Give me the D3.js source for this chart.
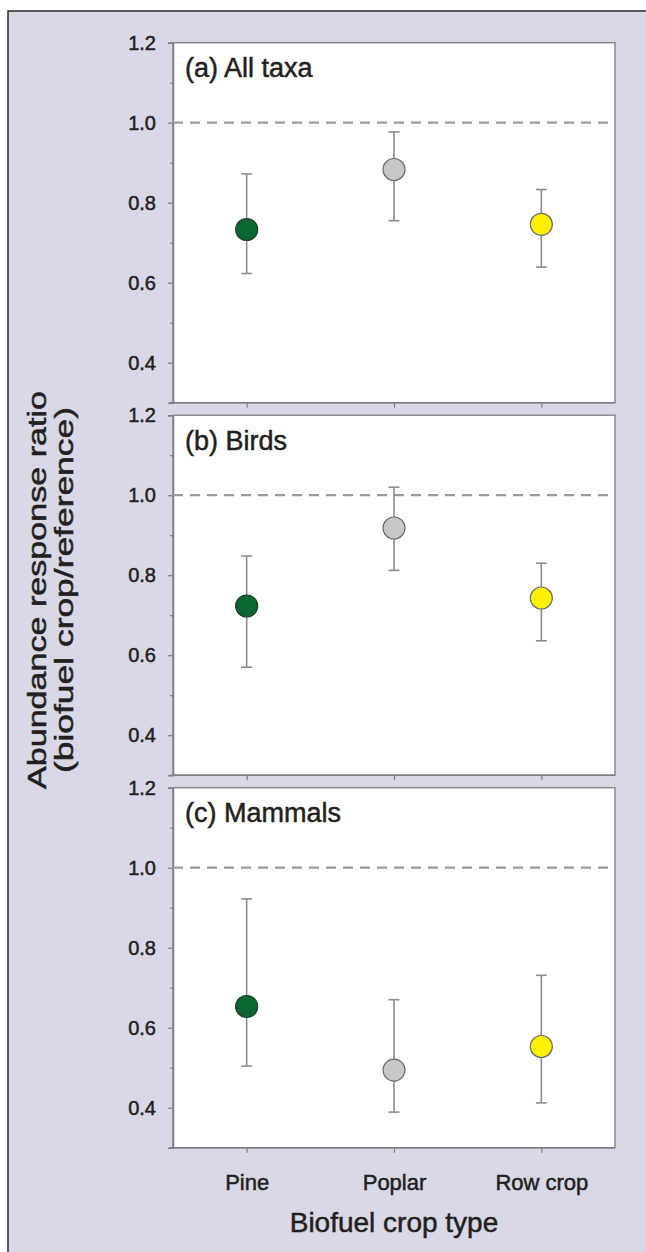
<!DOCTYPE html>
<html>
<head>
<meta charset="utf-8">
<script src="https://cdn.jsdelivr.net/npm/d3@7"></script>
<style>
  body { margin: 0; background: #fff; }
  text { font-family: "Liberation Sans", Arial, sans-serif; fill: #231f20; }
  .med { stroke: #231f20; stroke-width: 0.5px; }
</style>
</head>
<body>
<svg id="chart" width="646" height="1252"></svg>
<script>
// data
const categories = ["Pine", "Poplar", "Row crop"];
const panelLabels = ["(a) All taxa", "(b) Birds", "(c) Mammals"];
const colors = ["#0a6630", "#c8c8c8", "#fff200"];

const meanAll = [0.733, 0.883, 0.746];
const lowAll = [0.623, 0.755, 0.639];
const highAll = [0.872, 0.977, 0.833];

const meanBirds = [0.723, 0.918, 0.743];
const lowBirds = [0.570, 0.812, 0.636];
const highBirds = [0.848, 1.020, 0.830];

const meanMammals = [0.653, 0.494, 0.553];
const lowMammals = [0.504, 0.389, 0.412];
const highMammals = [0.922, 0.670, 0.731];

const yTicks = [0.4, 0.6, 0.8, 1.0, 1.2];
const yMinor = [0.5, 0.7, 0.9, 1.1];
const refLine = 1.0;

const panels = [
  { label: panelLabels[0], mean: meanAll, low: lowAll, high: highAll },
  { label: panelLabels[1], mean: meanBirds, low: lowBirds, high: highBirds },
  { label: panelLabels[2], mean: meanMammals, low: lowMammals, high: highMammals },
];

const svg = d3.select("#chart");
const left = 173, right = 615, top0 = 42.7, ph = 360, stride = 372.5;

// outer frame
svg.append("rect")
  .attr("x", 8).attr("y", 11).attr("width", 700).attr("height", 1300)
  .attr("fill", "#d9d8e7").attr("stroke", "#2a2a2a").attr("stroke-width", 1.5);

const x = d3.scalePoint().domain(categories).range([left, right]).padding(0.5);

panels.forEach((p, i) => {
  const top = top0 + i * stride;
  const y = d3.scaleLinear().domain([0.3, 1.2]).range([top + ph, top]);
  const g = svg.append("g");

  g.append("rect")
    .attr("x", left).attr("y", top).attr("width", right - left).attr("height", ph)
    .attr("fill", "#fff").attr("stroke", "#8a8a8e").attr("stroke-width", 1.5);

  // y axis
  const ya = g.append("g").attr("transform", `translate(${left},0)`)
    .call(d3.axisLeft(y).tickValues(yTicks).tickFormat(d3.format(".1f")).tickSize(5).tickPadding(12));
  ya.select(".domain").attr("stroke", "#7d7d82").attr("stroke-width", 1.5);
  ya.selectAll(".tick line").attr("stroke", "#7d7d82").attr("stroke-width", 1.2);
  ya.selectAll(".tick text").attr("class", "med").style("font-size", "20px").attr("fill", "#231f20");

  g.append("g").attr("transform", `translate(${left},0)`)
    .call(d3.axisLeft(y).tickValues(yMinor).tickFormat("").tickSize(3))
    .call((a) => a.select(".domain").remove())
    .selectAll(".tick line").attr("stroke", "#7d7d82").attr("stroke-width", 1.2);

  // x axis
  const xa = g.append("g").attr("transform", `translate(0,${top + ph})`)
    .call(d3.axisBottom(x).tickSize(5).tickPadding(22).tickFormat(i === 2 ? null : ""));
  xa.select(".domain").attr("stroke", "#7d7d82").attr("stroke-width", 1.5)
    .attr("d", `M${left - 3},0H${right}`);
  xa.selectAll(".tick line").attr("stroke", "#7d7d82").attr("stroke-width", 1.2);
  xa.selectAll(".tick text").attr("class", "med").style("font-size", "22px").attr("fill", "#231f20");

  // reference line
  g.append("line")
    .attr("x1", left).attr("x2", right).attr("y1", y(refLine)).attr("y2", y(refLine))
    .attr("stroke", "#9a9a9c").attr("stroke-width", 2.2).attr("stroke-dasharray", "10,7");

  // panel label
  g.append("text").attr("class", "med")
    .attr("x", left + 12).attr("y", top + 34.5)
    .style("font-size", "27px").text(p.label);

  // error bars
  const bars = g.selectAll(".bar").data(categories).enter().append("g");
  bars.append("line")
    .attr("x1", (d) => x(d)).attr("x2", (d) => x(d))
    .attr("y1", (d, k) => y(p.low[k])).attr("y2", (d, k) => y(p.high[k]))
    .attr("stroke", "#8c8c90").attr("stroke-width", 1.6);
  bars.append("line")
    .attr("x1", (d) => x(d) - 5.5).attr("x2", (d) => x(d) + 5.5)
    .attr("y1", (d, k) => y(p.low[k])).attr("y2", (d, k) => y(p.low[k]))
    .attr("stroke", "#8c8c90").attr("stroke-width", 1.6);
  bars.append("line")
    .attr("x1", (d) => x(d) - 5.5).attr("x2", (d) => x(d) + 5.5)
    .attr("y1", (d, k) => y(p.high[k])).attr("y2", (d, k) => y(p.high[k]))
    .attr("stroke", "#8c8c90").attr("stroke-width", 1.6);
  bars.append("circle")
    .attr("cx", (d) => x(d)).attr("cy", (d, k) => y(p.mean[k]))
    .attr("r", 11)
    .attr("fill", (d, k) => colors[k])
    .attr("stroke", (d, k) => (k === 0 ? "#1e3f28" : "#6e6e6e"))
    .attr("stroke-width", 1.2);
});

// axis titles
const midY = 590;
svg.append("text").attr("class", "med")
  .attr("transform", `translate(46,${midY}) rotate(-90)`)
  .attr("text-anchor", "middle").style("font-size", "26px")
  .attr("textLength", 398).attr("lengthAdjust", "spacingAndGlyphs")
  .text("Abundance response ratio");
svg.append("text").attr("class", "med")
  .attr("transform", `translate(73,${midY}) rotate(-90)`)
  .attr("text-anchor", "middle").style("font-size", "26px")
  .attr("textLength", 366).attr("lengthAdjust", "spacingAndGlyphs")
  .text("(biofuel crop/reference)");

svg.append("text").attr("class", "med")
  .attr("x", (left + right) / 2).attr("y", 1232)
  .attr("text-anchor", "middle").style("font-size", "28px")
  .text("Biofuel crop type");
</script>
</body>
</html>
